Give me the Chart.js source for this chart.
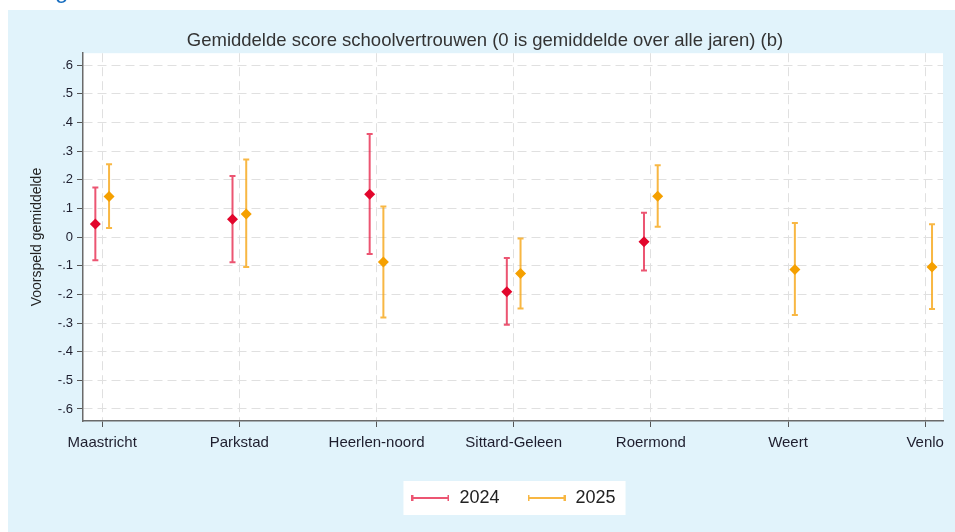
<!DOCTYPE html>
<html>
<head>
<meta charset="utf-8">
<title>Schoolvertrouwen</title>
<script src="https://cdn.jsdelivr.net/npm/chart.js@4"></script>
<style>
  html, body { margin: 0; padding: 0; background: #fff; }
  #wrap { position: relative; width: 955px; height: 532px; overflow: hidden; }
  #kop { position: absolute; left: 35px; top: -22px; font: 24px/24px Arial, "Liberation Sans", sans-serif; color: #1a6fc0; z-index: 2; }
  canvas { display: block; }
</style>
</head>
<body>
<div id="wrap">
  <div id="kop">Figuur</div>
  <canvas id="chart" width="955" height="532"></canvas>
</div>
<script>
// regio's op de x-as
const regios = ['Maastricht', 'Parkstad', 'Heerlen-noord', 'Sittard-Geleen', 'Roermond', 'Weert', 'Venlo'];

// 2024: voorspeld gemiddelde met betrouwbaarheidsinterval
const score2024 = [0.046, 0.062, 0.150, -0.191, -0.016, null, null];
const onder2024 = [-0.081, -0.088, -0.059, -0.306, -0.117, null, null];
const boven2024 = [0.173, 0.213, 0.360, -0.073, 0.085, null, null];

// 2025
const score2025 = [0.142, 0.081, -0.087, -0.127, 0.143, -0.113, -0.104];
const onder2025 = [0.032, -0.104, -0.281, -0.249, 0.036, -0.272, -0.251];
const boven2025 = [0.254, 0.271, 0.107, -0.005, 0.251, 0.049, 0.045];

// labels op de y-as
const yTicks = [-0.6, -0.5, -0.4, -0.3, -0.2, -0.1, 0, 0.1, 0.2, 0.3, 0.4, 0.5, 0.6];

const rood = '#e2062c';
const roodBalk = 'rgba(228, 20, 60, 0.72)';
const oranje = '#f5a000';
const oranjeBalk = 'rgba(246, 165, 20, 0.8)';

// punten een beetje naast elkaar zetten per jaar
function punten(scores, onder, boven, verschuiving) {
  const res = [];
  scores.forEach((s, i) => {
    if (s === null) return;
    res.push({ x: i + verschuiving, y: s, lo: onder[i], hi: boven[i] });
  });
  return res;
}

// symbool voor de legenda: lijntje met dwarsstreepjes
function legendaLijn(kleur) {
  const c = document.createElement('canvas');
  c.width = 38; c.height = 10;
  const g = c.getContext('2d');
  g.strokeStyle = kleur;
  g.lineWidth = 2;
  g.beginPath();
  g.moveTo(1, 5); g.lineTo(37, 5);
  g.moveTo(1, 2); g.lineTo(1, 8);
  g.moveTo(37, 2); g.lineTo(37, 8);
  g.stroke();
  return c;
}

// achtergrond: blauw vlak, wit plotgebied en wit legendakader
const achtergrond = {
  id: 'achtergrond',
  beforeDraw(chart) {
    const { ctx, width, height, chartArea } = chart;
    ctx.save();
    ctx.fillStyle = '#ffffff';
    ctx.fillRect(0, 0, width, height);
    ctx.fillStyle = '#e1f3fb';
    ctx.fillRect(8, 10, width - 8, height - 10);
    ctx.fillStyle = '#ffffff';
    ctx.fillRect(chartArea.left, chartArea.top, chartArea.right - chartArea.left, chartArea.bottom - chartArea.top);
    const hb = chart.legend.legendHitBoxes;
    if (hb && hb.length) {
      const eerste = hb[0], laatste = hb[hb.length - 1];
      const midden = eerste.top + eerste.height / 2;
      const links = eerste.left - 7;
      const rechts = laatste.left + laatste.width + 10;
      ctx.fillRect(links, midden - 17, rechts - links, 34);
    }
    ctx.restore();
  }
};

// foutbalken tekenen onder de markers
const foutbalken = {
  id: 'foutbalken',
  beforeDatasetsDraw(chart) {
    const { ctx, scales: { x, y } } = chart;
    chart.data.datasets.forEach(ds => {
      ctx.save();
      ctx.strokeStyle = ds.balkKleur;
      ctx.lineWidth = 2;
      ds.data.forEach(p => {
        const px = x.getPixelForValue(p.x);
        const top = y.getPixelForValue(p.hi);
        const bot = y.getPixelForValue(p.lo);
        ctx.beginPath();
        ctx.moveTo(px, top); ctx.lineTo(px, bot);
        ctx.moveTo(px - 3, top); ctx.lineTo(px + 3, top);
        ctx.moveTo(px - 3, bot); ctx.lineTo(px + 3, bot);
        ctx.stroke();
      });
      ctx.restore();
    });
  }
};

Chart.defaults.font.family = 'Arial, "Liberation Sans", sans-serif';
Chart.defaults.color = '#222';

new Chart(document.getElementById('chart'), {
  type: 'scatter',
  data: {
    datasets: [{
      label: '2024',
      data: punten(score2024, onder2024, boven2024, -0.05),
      balkKleur: roodBalk,
      backgroundColor: rood,
      borderColor: rood,
      pointStyle: 'rectRot',
      pointRadius: 5.5,
      borderWidth: 0
    }, {
      label: '2025',
      data: punten(score2025, onder2025, boven2025, 0.05),
      balkKleur: oranjeBalk,
      backgroundColor: oranje,
      borderColor: oranje,
      pointStyle: 'rectRot',
      pointRadius: 5.5,
      borderWidth: 0
    }]
  },
  options: {
    responsive: false,
    animation: false,
    events: [],
    layout: { padding: { left: 27, right: 12, top: 0, bottom: 15 } },
    plugins: {
      tooltip: { enabled: false },
      title: {
        display: true,
        text: 'Gemiddelde score schoolvertrouwen (0 is gemiddelde over alle jaren) (b)',
        color: '#333',
        font: { size: 18.5, weight: 'normal' },
        padding: { top: 30, bottom: 1 }
      },
      legend: {
        position: 'bottom',
        fullSize: false,
        labels: {
          usePointStyle: true,
          pointStyleWidth: 40,
          padding: 27,
          color: '#222',
          font: { size: 18 },
          generateLabels: chart => chart.data.datasets.map((ds, i) => ({
            text: ds.label,
            pointStyle: legendaLijn(ds.balkKleur),
            datasetIndex: i,
            fontColor: '#222',
            fillStyle: 'transparent',
            strokeStyle: 'transparent',
            lineWidth: 0,
            hidden: false
          }))
        }
      }
    },
    scales: {
      x: {
        type: 'linear',
        min: -0.14,
        max: 6.13,
        afterBuildTicks: s => { s.ticks = regios.map((r, i) => ({ value: i })); },
        afterFit: s => { s.height = 41; },
        ticks: {
          callback: v => regios[v],
          font: { size: 15 },
          color: '#1e1e2e',
          padding: 7,
          maxRotation: 0,
          autoSkip: false
        },
        grid: { color: '#e0e0e0', lineWidth: 1, tickColor: '#555', tickLength: 6, tickBorderDash: [] },
        border: { color: '#6a6a6a', width: 1.5, dash: [9, 5] }
      },
      y: {
        min: -0.642,
        max: 0.642,
        afterBuildTicks: s => { s.ticks = yTicks.map(v => ({ value: v })); },
        afterFit: s => { s.width = 56; },
        ticks: {
          callback: v => v === 0 ? '0' : String(Math.round(v * 10) / 10).replace('0.', '.'),
          font: { size: 13 },
          color: '#1e1e2e',
          padding: 4
        },
        title: {
          display: true,
          text: 'Voorspeld gemiddelde',
          color: '#222',
          font: { size: 14 },
          padding: { top: 2, bottom: 0 }
        },
        grid: { color: '#e0e0e0', lineWidth: 1, tickColor: '#555', tickLength: 6, tickBorderDash: [] },
        border: { color: '#6a6a6a', width: 1.5, dash: [9, 5] }
      }
    }
  },
  plugins: [achtergrond, foutbalken]
});
</script>
</body>
</html>
